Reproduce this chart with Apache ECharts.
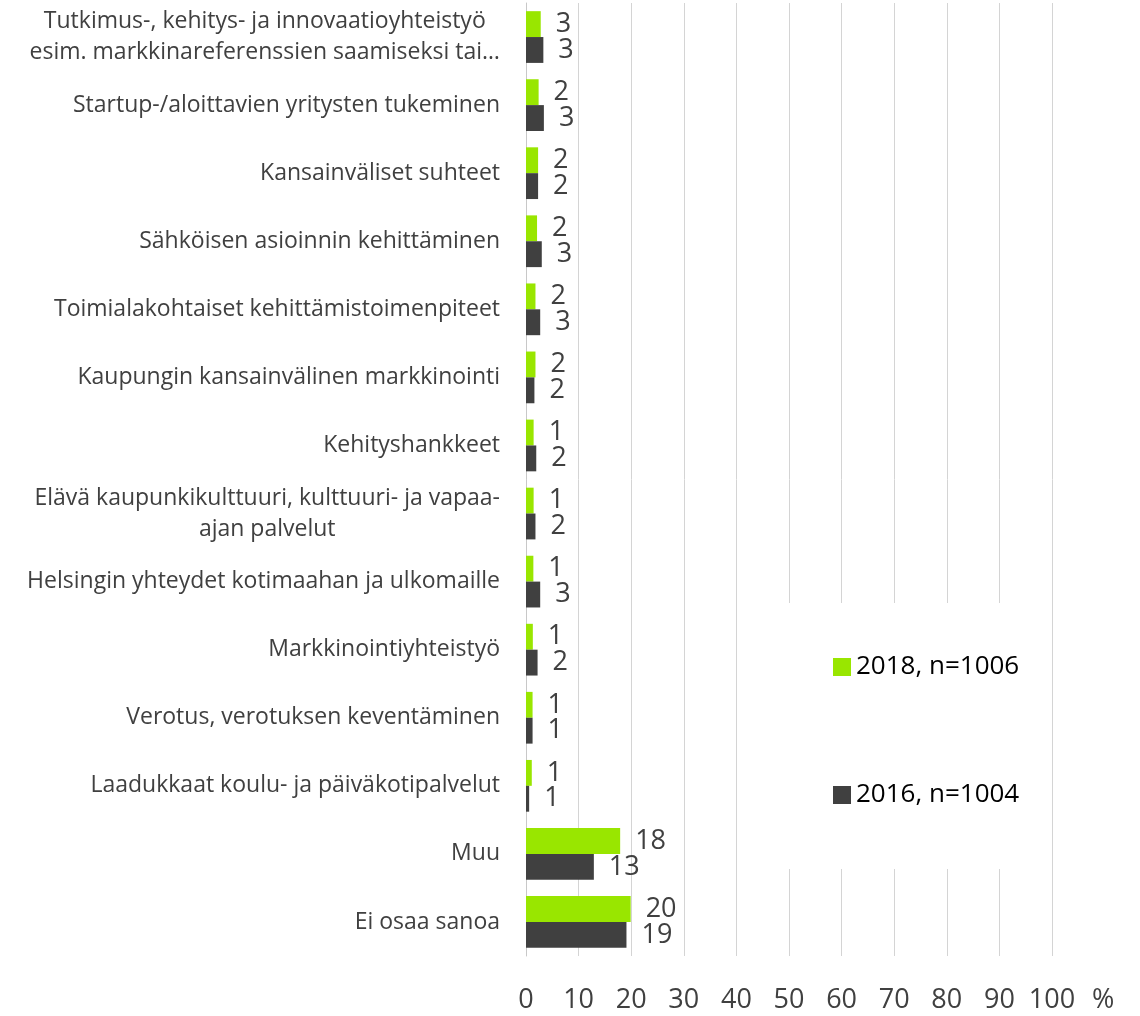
<!DOCTYPE html>
<html>
<head>
<meta charset="utf-8">
<script src="https://cdn.jsdelivr.net/npm/echarts@6/dist/echarts.min.js"></script>
<style>
  html,body{margin:0;padding:0;background:#fff;}
  #chart{width:1140px;height:1016px;}
</style>
</head>
<body>
<div id="chart"></div>
<script>
(function(){
  // kategoriat ylhäältä alas
  const categories = [
    'Tutkimus-, kehitys- ja innovaatioyhteistyö\nesim. markkinareferenssien saamiseksi tai…',
    'Startup-/aloittavien yritysten tukeminen',
    'Kansainväliset suhteet',
    'Sähköisen asioinnin kehittäminen',
    'Toimialakohtaiset kehittämistoimenpiteet',
    'Kaupungin kansainvälinen markkinointi',
    'Kehityshankkeet',
    'Elävä kaupunkikulttuuri, kulttuuri- ja vapaa-\najan palvelut',
    'Helsingin yhteydet kotimaahan ja ulkomaille',
    'Markkinointiyhteistyö',
    'Verotus, verotuksen keventäminen',
    'Laadukkaat koulu- ja päiväkotipalvelut',
    'Muu',
    'Ei osaa sanoa'
  ];
  const values2018 = [2.8, 2.4, 2.3, 2.1, 1.8, 1.8, 1.45, 1.45, 1.4, 1.3, 1.25, 1.1, 17.9, 19.9];
  const values2016 = [3.3, 3.4, 2.3, 3.0, 2.7, 1.6, 1.95, 1.8, 2.7, 2.2, 1.25, 0.6, 12.9, 19.1];
  const xTicks = {min:0, max:100, interval:10};
  const seriesNames = ['2018, n=1006', '2016, n=1004'];

  const FONT = '"Open Sans", sans-serif';
  const TXT = '#404040';
  const GREEN = '#99e600';
  const DARK = '#404040';

  const chart = echarts.init(document.getElementById('chart'));

  const labelCfg = {
    show:true, position:'right', distance:15,
    color:TXT, fontSize:27, fontFamily:FONT,
    formatter:p=>Math.round(p.value)
  };

  chart.setOption({
    animation:false,
    textStyle:{fontFamily:FONT},
    grid:{left:526, right:88, top:3, bottom:60, containLabel:false},
    legend:{
      orient:'vertical', left:788, top:603,
      padding:[49,12,59,45], itemGap:98,
      itemWidth:18, itemHeight:18, icon:'rect',
      backgroundColor:'#fff',
      data:seriesNames,
      textStyle:{color:'#000', fontSize:26, fontFamily:FONT, lineHeight:30}
    },
    xAxis:{
      type:'value', min:xTicks.min, max:xTicks.max, interval:xTicks.interval,
      axisLine:{show:false}, axisTick:{show:false},
      splitLine:{show:true, lineStyle:{color:'#d4d4d4', width:1}},
      axisLabel:{color:TXT, fontSize:27, fontFamily:FONT, margin:31},
      name:'%', nameLocation:'end', nameGap:40,
      nameTextStyle:{color:TXT, fontSize:27, fontFamily:FONT, verticalAlign:'top', padding:[31,0,0,0]}
    },
    yAxis:{
      type:'category', inverse:true, data:categories,
      axisLine:{show:true, lineStyle:{color:'#c8c8c8', width:1}},
      axisTick:{show:false},
      axisLabel:{
        margin:26, color:TXT, fontSize:23, fontFamily:FONT, lineHeight:31,
        formatter:v=>v.split('\n').map(s=>'{c|'+s+'}').join('\n'),
        rich:{c:{align:'center', color:TXT, fontSize:23, fontFamily:FONT, lineHeight:31}}
      }
    },
    series:[
      {name:seriesNames[0], type:'bar', data:values2018, itemStyle:{color:GREEN},
        barGap:'0%', barCategoryGap:'24%', label:labelCfg},
      {name:seriesNames[1], type:'bar', data:values2016, itemStyle:{color:DARK},
        barGap:'0%', barCategoryGap:'24%', label:labelCfg}
    ]
  });
})();
</script>
</body>
</html>
